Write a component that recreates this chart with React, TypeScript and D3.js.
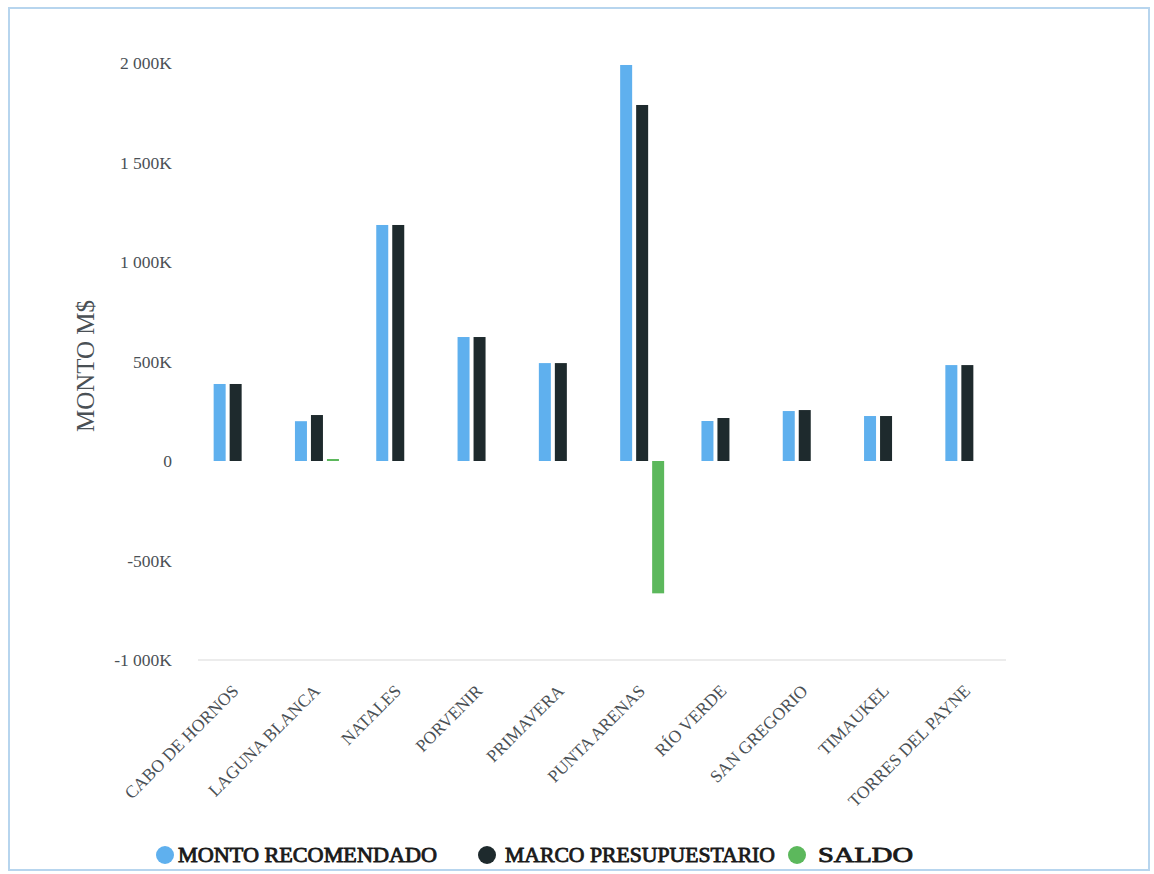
import React from "react";
import * as d3 from "d3";

const categories = [
  "CABO DE HORNOS",
  "LAGUNA BLANCA",
  "NATALES",
  "PORVENIR",
  "PRIMAVERA",
  "PUNTA ARENAS",
  "RÍO VERDE",
  "SAN GREGORIO",
  "TIMAUKEL",
  "TORRES DEL PAYNE",
];
const montoRecomendado = [387000, 200000, 1186000, 623000, 492000, 1990000, 201000, 251000, 226000, 482000];
const marcoPresupuestario = [387000, 231000, 1186000, 623000, 492000, 1789000, 216000, 256000, 226000, 482000];
const saldo = [0, 10000, 0, 0, 0, -665000, 0, 0, 0, 0];
const yTicks = [-1000000, -500000, 0, 500000, 1000000, 1500000, 2000000];
const seriesNames = ["MONTO RECOMENDADO", "MARCO PRESUPUESTARIO", "SALDO"];
const seriesColors = ["#5fb0ee", "#1e2a2d", "#5cb85c"];

const W = 1154;
const H = 874;
const FONT = "Liberation Serif, Times New Roman, serif";

export default function App() {
  const x = d3.scaleBand<string>().domain(categories).range([195, 1008]).padding(0);
  const inner = d3.scaleBand<string>().domain(seriesNames).range([0, 44]).paddingInner(0.25);
  const groupOffset = (x.bandwidth() - 44) / 2;
  const y = d3.scaleLinear().domain([-1000000, 2000000]).range([660, 63]);
  const fmt = (v: number) => {
    if (v === 0) return "0";
    const k = v / 1000;
    const s = d3.format(",")(Math.abs(k)).replace(/,/g, " ");
    return (k < 0 ? "-" : "") + s + "K";
  };
  const seriesData = [montoRecomendado, marcoPresupuestario, saldo];
  const legendX = [165, 487, 797];
  const legendTextDx = [13, 18, 21];
  const legendLen = [259, 270, 95];

  return (
    <svg
      width={W}
      height={H}
      style={{ position: "absolute", left: 0, top: 0, background: "#fff", fontFamily: FONT }}
    >
      <rect x={9} y={8} width={1140} height={862} fill="none" stroke="#b7d5ee" strokeWidth={2} />
      <line x1={198} x2={1006} y1={y(-1000000)} y2={y(-1000000)} stroke="#e6e6e6" strokeWidth={1.5} />
      {yTicks.map((t) => (
        <text key={t} x={172} y={y(t)} dy="0.35em" textAnchor="end" fontSize={17.5} fill="#4a5055" style={{ fontFamily: FONT }}>
          {fmt(t)}
        </text>
      ))}
      <text
        transform={`translate(94,366) rotate(-90)`}
        textAnchor="middle"
        fontSize={25}
        fill="#4a5055"
        style={{ fontFamily: FONT }}
      >
        MONTO M$
      </text>
      {categories.map((c, i) => (
        <g key={c} transform={`translate(${(x(c) as number) + groupOffset},0)`}>
          {seriesNames.map((s, j) => {
            const v = seriesData[j][i];
            if (v === 0) return null;
            const y0 = y(0);
            const y1 = y(v);
            return (
              <rect
                key={s}
                x={inner(s) as number}
                y={Math.min(y0, y1)}
                width={inner.bandwidth()}
                height={Math.max(1.5, Math.abs(y1 - y0))}
                fill={seriesColors[j]}
              />
            );
          })}
        </g>
      ))}
      {categories.map((c) => {
        const cx = (x(c) as number) + x.bandwidth() / 2 + 4;
        return (
          <text
            key={c}
            transform={`translate(${cx},692) rotate(-45)`}
            textAnchor="end"
            fontSize={17.5}
            fill="#4a5055"
            style={{ fontFamily: FONT }}
          >
            {c}
          </text>
        );
      })}
      {seriesNames.map((s, j) => (
        <g key={s} transform={`translate(${legendX[j]},855)`}>
          <circle cx={0} cy={0} r={9} fill={seriesColors[j]} />
          <text
            x={legendTextDx[j]}
            y={0}
            dy="0.35em"
            fontSize={20}
            fill="#1a1a1a"
            stroke="#1a1a1a"
            strokeWidth={0.8}
            textLength={legendLen[j]}
            lengthAdjust="spacingAndGlyphs"
            style={{ fontFamily: FONT }}
          >
            {s}
          </text>
        </g>
      ))}
    </svg>
  );
}
